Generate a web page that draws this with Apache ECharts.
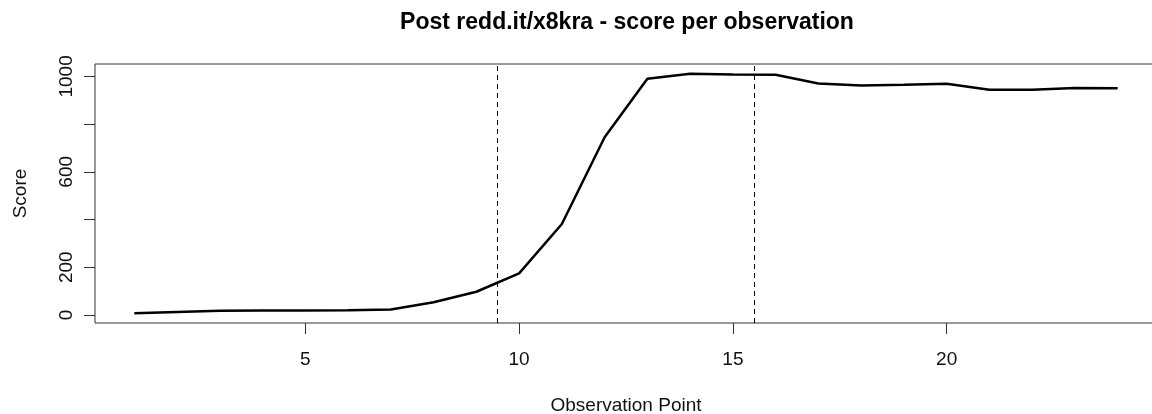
<!DOCTYPE html>
<html>
<head>
<meta charset="utf-8">
<script src="https://cdn.jsdelivr.net/npm/echarts@6/dist/echarts.min.js"></script>
<style>
  html, body { margin: 0; padding: 0; background: #fff; overflow: hidden; }
  #chart { width: 1152px; height: 414px; }
</style>
</head>
<body>
<div id="chart"></div>
<script>
// observation points and scores
const obsPoints = [1, 2, 3, 4, 5, 6, 7, 8, 9, 10, 11, 12, 13, 14, 15, 16, 17, 18, 19, 20, 21, 22, 23, 24]
const scores    = [7, 12, 17, 18, 18, 19, 23, 53, 97, 174, 381, 745, 990, 1011, 1008, 1007, 970, 962, 965, 969, 944, 944, 951, 950]
const xTicks    = [5, 10, 15, 20]
const yTicks    = [0, 200, 400, 600, 800, 1000]
const yLabels   = [0, 200, 600, 1000]
const markers   = [9.5, 15.5]

const FONT = '"Liberation Sans", Arial, sans-serif'
const INK = '#333'

const chart = echarts.init(document.getElementById('chart'))

chart.setOption({
  animation: false,
  title: {
    text: 'Post redd.it/x8kra - score per observation',
    left: 622,
    top: 6,
    textAlign: 'center',
    textStyle: { fontFamily: FONT, fontSize: 23, fontWeight: 'bold', color: '#000' },
  },
  grid: {
    left: 95, right: -5, top: 64, bottom: 91,
    outerBoundsMode: 'none',
    show: true, borderColor: INK, borderWidth: 1,
  },
  xAxis: {
    type: 'value',
    min: 0.08, max: 24.92,
    name: 'Observation Point',
    nameLocation: 'middle',
    nameGap: 73,
    nameTextStyle: { fontFamily: FONT, fontSize: 19, color: '#111' },
    axisLine: { show: false, onZero: false },
    splitLine: { show: false },
    axisTick: { show: true, length: 11, inside: false, customValues: xTicks, lineStyle: { color: INK } },
    axisLabel: { customValues: xTicks, margin: 27, fontFamily: FONT, fontSize: 19, color: '#111' },
  },
  yAxis: {
    type: 'value',
    min: -34, max: 1052,
    name: 'Score',
    nameLocation: 'middle',
    nameGap: 65,
    nameTextStyle: { fontFamily: FONT, fontSize: 19, color: '#111' },
    axisLine: { show: false, onZero: false },
    splitLine: { show: false },
    axisTick: { show: true, length: 11, customValues: yTicks, lineStyle: { color: INK } },
    axisLabel: {
      customValues: yLabels, rotate: 90, margin: 19,
      fontFamily: FONT, fontSize: 19, color: '#111',
      formatter: (v) => String(v),
    },
  },
  series: [{
    type: 'line',
    data: obsPoints.map((x, i) => [x, scores[i]]),
    showSymbol: false,
    lineStyle: { color: '#000', width: 2.5 },
    markLine: {
      silent: true,
      symbol: ['none', 'none'],
      label: { show: false },
      lineStyle: { color: '#000', width: 1, type: [5, 4] },
      data: markers.map((v) => ({ xAxis: v })),
    },
  }],
})
</script>
</body>
</html>
